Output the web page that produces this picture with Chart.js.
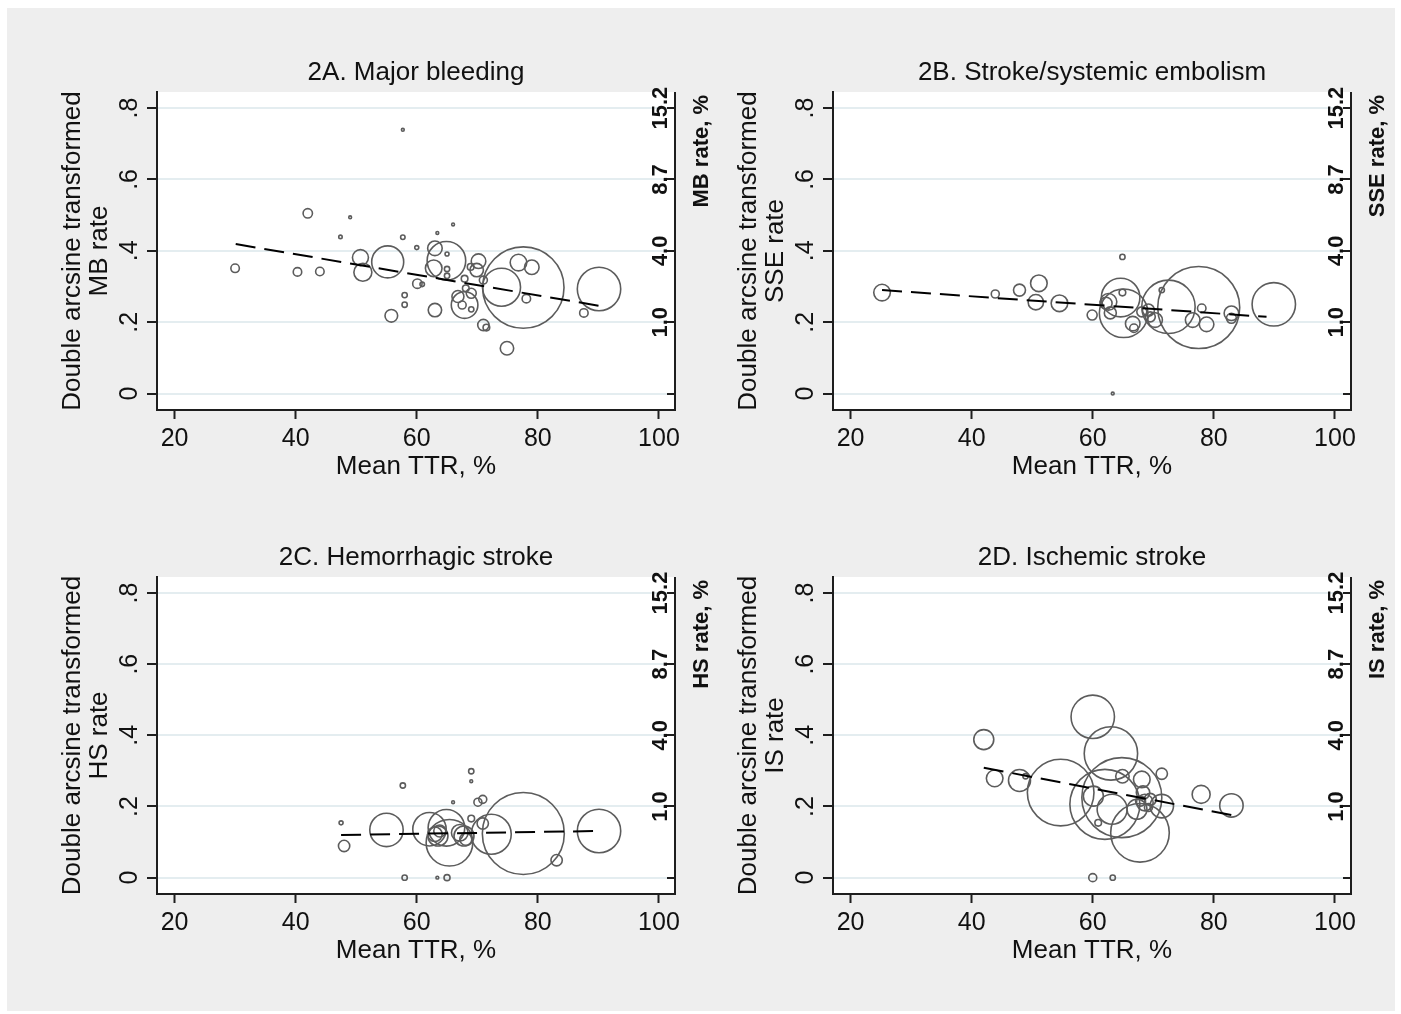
<!DOCTYPE html>
<html><head><meta charset="utf-8">
<script src="https://cdn.jsdelivr.net/npm/chart.js@4.4.1/dist/chart.umd.min.js"></script>
<style>
html,body{margin:0;padding:0;background:#fff;width:1401px;height:1014px;overflow:hidden}
#bg{position:absolute;left:7px;top:8px;width:1388px;height:1003px;background:#eeeeee}
canvas{position:absolute;left:0;top:0}
</style></head><body>
<div id="bg"></div>
<canvas id="cA" width="1401" height="1014"></canvas>
<canvas id="cB" width="1401" height="1014"></canvas>
<canvas id="cC" width="1401" height="1014"></canvas>
<canvas id="cD" width="1401" height="1014"></canvas>
<script>
// ---------- tick labels ----------
const xTicks = [20, 40, 60, 80, 100];
const xTickLabels = ['20', '40', '60', '80', '100'];
const yTicks = [0, 0.2, 0.4, 0.6, 0.8];
const yTickLabels = ['0', '.2', '.4', '.6', '.8'];
const rateTickLabels = ['', '1.0', '4.0', '8.7', '15.2'];
const xTitle = 'Mean TTR, %';
const yTitleLine1 = 'Double arcsine transformed';
const panelTitles = ['2A. Major bleeding', '2B. Stroke/systemic embolism', '2C. Hemorrhagic stroke', '2D. Ischemic stroke'];
const yTitleLine2 = ['MB rate', 'SSE rate', 'HS rate', 'IS rate'];
const rateTitles = ['MB rate, %', 'SSE rate, %', 'HS rate, %', 'IS rate, %'];

// ---------- 2A Major bleeding ----------
const ttrA = [30.0,40.3,44.0,42.0,49.0,47.4,57.7,57.7,50.7,51.1,55.2,60.0,60.9,60.1,58.0,58.0,55.8,63.0,63.0,62.8,64.9,63.4,66.0,65.0,65.0,65.0,67.9,70.2,69.9,68.9,71.0,67.9,66.8,69.0,67.5,69.0,68.1,71.0,71.5,74.0,77.6,76.8,79.0,78.1,74.9,87.6,90.1];
const rateA = [0.351,0.341,0.342,0.505,0.494,0.439,0.739,0.438,0.381,0.340,0.369,0.409,0.306,0.308,0.276,0.249,0.218,0.234,0.407,0.351,0.372,0.450,0.474,0.391,0.349,0.330,0.322,0.371,0.346,0.355,0.318,0.248,0.272,0.281,0.248,0.236,0.295,0.192,0.185,0.298,0.297,0.367,0.354,0.266,0.127,0.226,0.293];
const weightA = [18,18,18,22,2,3,2,5,64,81,256,4,5,22,7,7,40,45,53,69,372,2,2,4,7,7,11,53,45,11,16,177,36,25,16,7,11,32,11,361,1656,69,53,18,45,18,471];
const fitXA = [30.1, 90.1];
const fitYA = [0.419, 0.246];

// ---------- 2B Stroke/systemic embolism ----------
const ttrB = [25.2,43.9,47.9,51.1,50.6,54.5,59.9,64.9,63.3,62.6,62.2,62.9,64.9,64.6,65.1,66.6,66.8,68.1,69.2,70.3,69.5,72.5,71.4,77.5,78.0,76.5,78.8,82.9,82.9,89.9];
const rateB = [0.283,0.279,0.290,0.309,0.256,0.253,0.220,0.383,0.000,0.257,0.253,0.226,0.283,0.269,0.225,0.196,0.183,0.229,0.234,0.206,0.215,0.243,0.290,0.241,0.239,0.206,0.194,0.225,0.211,0.250];
const weightB = [69,16,36,69,59,69,25,7,2,69,36,36,11,372,590,53,18,25,36,53,25,713,7,1681,18,53,53,53,25,471];
const fitXB = [25.2, 88.7];
const fitYB = [0.290, 0.215];

// ---------- 2C Hemorrhagic stroke ----------
const ttrC = [47.5,48.0,55.0,57.7,58.0,63.4,65.0,66.0,69.0,69.0,70.1,70.9,70.9,69.0,62.1,64.9,65.4,63.5,63.0,63.8,67.1,68.1,72.3,77.6,83.1,90.1,67.8];
const rateC = [0.154,0.089,0.134,0.259,0.000,0.000,0.000,0.212,0.299,0.271,0.212,0.220,0.152,0.166,0.136,0.140,0.098,0.117,0.122,0.131,0.126,0.108,0.122,0.124,0.049,0.131,0.117];
const weightC = [4,32,279,7,7,2,9,2,7,2,16,16,32,11,279,335,543,100,53,36,69,36,400,1681,32,471,100];
const fitXC = [47.5, 90.1];
const fitYC = [0.120, 0.131];

// ---------- 2D Ischemic stroke ----------
const ttrD = [42.0,43.8,47.9,48.9,60.0,63.0,54.7,62.0,64.8,67.8,63.2,60.1,60.0,63.3,60.9,64.9,71.4,68.1,68.3,68.6,67.3,69.5,71.4,67.9,77.9,82.9,69.2];
const rateD = [0.388,0.279,0.273,0.285,0.452,0.349,0.239,0.206,0.225,0.126,0.192,0.229,0.000,0.000,0.154,0.285,0.292,0.276,0.239,0.211,0.192,0.220,0.201,0.215,0.234,0.203,0.197];
const weightD = [100,69,121,7,471,713,1109,1225,1600,858,225,100,16,7,11,45,32,69,45,69,100,36,137,25,81,137,16];
const fitXD = [42.0, 82.9];
const fitYD = [0.309, 0.176];

// ---------- layout (pixel boxes of each plot region) ----------
const panels = [
  {id:'cA', L:157, T:92,  R:675,  B:410, ttr:ttrA, rate:rateA, w:weightA, fx:fitXA, fy:fitYA},
  {id:'cB', L:833, T:92,  R:1351, B:410, ttr:ttrB, rate:rateB, w:weightB, fx:fitXB, fy:fitYB},
  {id:'cC', L:157, T:577, R:675,  B:894, ttr:ttrC, rate:rateC, w:weightC, fx:fitXC, fy:fitYC},
  {id:'cD', L:833, T:577, R:1351, B:894, ttr:ttrD, rate:rateD, w:weightD, fx:fitXD, fy:fitYD}
];

const FONT = '"Liberation Sans", Arial, Helvetica, sans-serif';
const AXIS = '#1e1e1e';

function rotText(ctx, s, bx, cy, align) {
  ctx.save();
  ctx.translate(bx, cy);
  ctx.rotate(-Math.PI / 2);
  ctx.textAlign = align;
  ctx.textBaseline = 'alphabetic';
  ctx.fillText(s, 0, 0);
  ctx.restore();
}

const panelText = {
  id: 'panelText',
  beforeDraw(chart) {
    const {ctx, chartArea: a} = chart;
    ctx.save();
    ctx.fillStyle = '#ffffff';
    ctx.fillRect(a.left, a.top, a.right - a.left, a.bottom - a.top);
    ctx.restore();
  },
  afterDraw(chart, args, o) {
    const {ctx, chartArea: a} = chart;
    const x = chart.scales.x, y = chart.scales.y;
    const cx = (a.left + a.right) / 2, cy = (a.top + a.bottom) / 2;
    ctx.save();
    ctx.fillStyle = '#111';
    ctx.textAlign = 'center';
    ctx.textBaseline = 'alphabetic';
    ctx.font = '26px ' + FONT;
    ctx.fillText(o.title, cx, a.top - 12);
    ctx.font = '25px ' + FONT;
    xTicks.forEach((v, i) => ctx.fillText(xTickLabels[i], x.getPixelForValue(v), a.bottom + 36));
    ctx.font = '26px ' + FONT;
    ctx.fillText(xTitle, cx, a.bottom + 64);
    ctx.font = '25px ' + FONT;
    yTicks.forEach((v, i) => rotText(ctx, yTickLabels[i], a.left - 20, y.getPixelForValue(v), 'center'));
    ctx.font = '26px ' + FONT;
    rotText(ctx, yTitleLine1, a.left - 77, cy, 'center');
    rotText(ctx, o.ytitle2, a.left - 50, cy, 'center');
    // right (rate) axis: line, inward ticks, labels
    ctx.strokeStyle = AXIS;
    ctx.lineWidth = 2;
    ctx.beginPath();
    ctx.moveTo(a.right, a.top);
    ctx.lineTo(a.right, a.bottom + 1);
    yTicks.forEach(v => {
      const py = Math.round(y.getPixelForValue(v));
      ctx.moveTo(a.right - 8, py);
      ctx.lineTo(a.right, py);
    });
    ctx.stroke();
    ctx.font = 'bold 22px ' + FONT;
    rateTickLabels.forEach((lab, i) => { if (lab) rotText(ctx, lab, a.right - 8, y.getPixelForValue(yTicks[i]), 'center'); });
    ctx.font = 'bold 22px ' + FONT;
    rotText(ctx, o.rtitle, a.right + 33, a.top + 3, 'right');
    ctx.restore();
  }
};

panels.forEach((p, k) => {
  const bubbles = p.ttr.map((v, i) => ({x: v, y: p.rate[i], r: Math.sqrt(p.w[i])}));
  const fit = p.fx.map((v, i) => ({x: v, y: p.fy[i]}));
  new Chart(document.getElementById(p.id), {
    type: 'bubble',
    data: {
      datasets: [
        {type: 'line', data: fit, borderColor: '#000', borderWidth: 2, borderDash: [20, 9],
         pointRadius: 0, fill: false, order: 0},
        {type: 'bubble', data: bubbles, backgroundColor: 'rgba(0,0,0,0)', borderColor: '#5c5c5c',
         borderWidth: 1.6, hoverRadius: 0, order: 1}
      ]
    },
    options: {
      responsive: false,
      animation: false,
      events: [],
      layout: {padding: {left: p.L - 10, top: p.T, right: 1401 - p.R, bottom: 1014 - p.B - 9}},
      plugins: {
        legend: {display: false},
        tooltip: {enabled: false},
        panelText: {title: panelTitles[k], ytitle2: yTitleLine2[k], rtitle: rateTitles[k]}
      },
      scales: {
        x: {
          type: 'linear', min: 17.1, max: 102.65,
          afterBuildTicks: s => { s.ticks = xTicks.map(v => ({value: v})); },
          afterFit: s => { s.height = 9; },
          ticks: {display: false},
          grid: {drawOnChartArea: false, drawTicks: true, tickLength: 9, tickColor: AXIS, tickWidth: 2},
          border: {display: true, color: AXIS, width: 2}
        },
        y: {
          type: 'linear', min: -0.046, max: 0.845,
          afterBuildTicks: s => { s.ticks = yTicks.map(v => ({value: v})); },
          afterFit: s => { s.width = 10; },
          ticks: {display: false},
          grid: {color: '#e4edf0', lineWidth: 2, drawTicks: true, tickLength: 10, tickColor: AXIS, tickWidth: 2},
          border: {display: true, color: AXIS, width: 2}
        }
      }
    },
    plugins: [panelText]
  });
});
</script>
</body></html>
